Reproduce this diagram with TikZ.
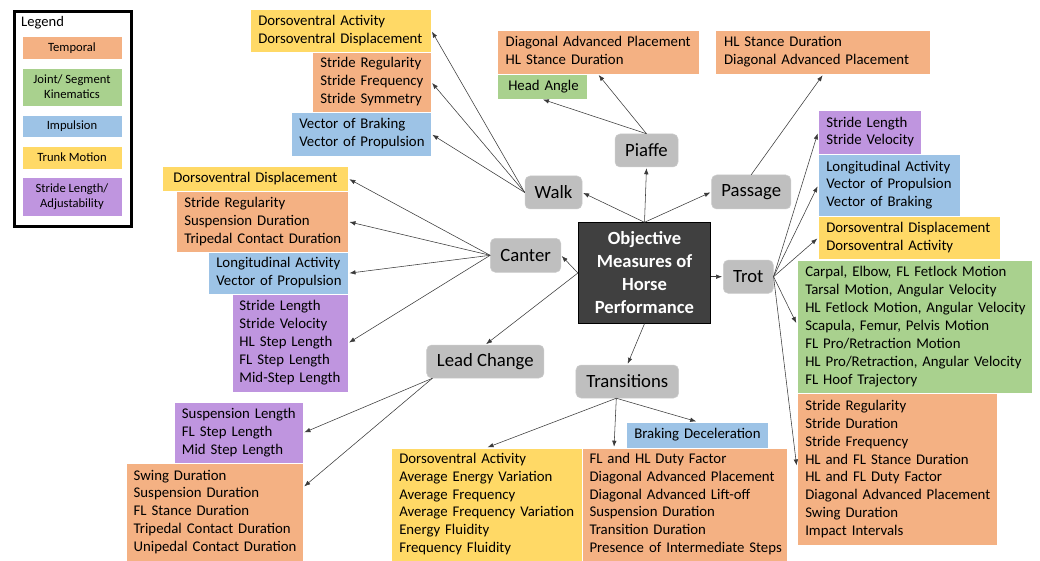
\documentclass[tikz,border=0pt]{standalone}
\usepackage{fontspec}
\setmainfont{Carlito}
\usetikzlibrary{arrows.meta,positioning,calc}
\definecolor{orng}{HTML}{F4B183}
\definecolor{grn}{HTML}{A9D18E}
\definecolor{blu}{HTML}{9DC3E6}
\definecolor{ylw}{HTML}{FFD966}
\definecolor{prp}{HTML}{BF95DF}
\definecolor{gry}{HTML}{BFBFBF}
\definecolor{drk}{HTML}{404040}
\definecolor{lnk}{HTML}{3A3A3A}
\newcommand\myCellFont{\fontsize{14.8}{17.9}\selectfont}
\newcommand\myNodeFont{\fontsize{18.7}{22}\selectfont}
\newcommand\myLegFont{\fontsize{12.6}{15.3}\selectfont}
\newcommand\cellLines[1]{\noindent\begin{tabular}{@{}l@{}}#1\end{tabular}}
\hbadness=10000 \hfuzz=200pt
\begin{document}
\begin{tikzpicture}[x=1pt,y=-1pt,
  cell/.style={rectangle, anchor=north west, inner xsep=8pt, inner ysep=0pt,
    align=left, font=\myCellFont, draw=white, line width=0.5pt},
  gnode/.style={rectangle, rounded corners=5pt, fill=gry, draw=gry!80!white,
    line width=0.5pt, inner sep=0pt, font=\myNodeFont, align=center},
  legcell/.style={rectangle, inner sep=0pt, minimum width=100pt, align=center,
    font=\myLegFont, draw=white, line width=0.5pt},
  link/.style={draw=lnk, line width=0.55pt, -{Latex[length=6pt,width=4.5pt]}, shorten >=1pt}]
\useasboundingbox (0,0) rectangle (1040,561);
\fill[white] (0,0) rectangle (1040,561);

% Legend
\node[draw=black, line width=2.6pt, minimum width=117pt, minimum height=215pt, anchor=north west, inner sep=0pt] (legend) at (13,10) {};
\node[anchor=west, font=\fontsize{14.6}{17}\selectfont, inner sep=0pt] (legtitle) at (21,23) {Legend};
\node[legcell, fill=orng, minimum height=23pt] (lg1) at (72,48.2) {Temporal};
\node[legcell, fill=grn, minimum height=38pt] (lg2) at (72,87) {Joint/ Segment\\Kinematics};
\node[legcell, fill=blu, minimum height=22pt] (lg3) at (72,126) {Impulsion};
\node[legcell, fill=ylw, minimum height=23pt] (lg4) at (72,157.5) {Trunk Motion};
\node[legcell, fill=prp, minimum height=39pt] (lg5) at (72,196.5) {Stride Length/\\Adjustability};

% Central and gait nodes
\node[rectangle, fill=drk, draw=black, line width=0.8pt, minimum width=132.4pt, minimum height=100.6pt,
  inner sep=0pt, align=center, text=white, font=\fontsize{18.6}{23}\selectfont\bfseries] (center) at (644.5,273)
  {Objective\\Measures of\\Horse\\Performance};
\node[gnode, minimum width=57pt, minimum height=33pt] (walk) at (553.5,192.5) {Walk};
\node[gnode, minimum width=63pt, minimum height=33pt] (piaffe) at (646.5,150.5) {Piaffe};
\node[gnode, minimum width=79.3pt, minimum height=34pt] (passage) at (751.2,192) {Passage};
\node[gnode, minimum width=70.4pt, minimum height=34pt] (canter) at (525.6,255.3) {Canter};
\node[gnode, minimum width=50pt, minimum height=33.3pt] (trot) at (748.3,276.7) {Trot};
\node[gnode, minimum width=117.3pt, minimum height=33pt] (lc) at (485.3,361.5) {Lead Change};
\node[gnode, minimum width=102.7pt, minimum height=33pt] (trans) at (627.3,381.5) {Transitions};

% Walk boxes
\node[cell, fill=ylw, text width=165pt, minimum height=42.4pt] (wy) at (250,9.3) {\cellLines{Dorsoventral Activity\\Dorsoventral Displacement}};
\node[cell, fill=orng, text width=103pt, minimum height=60pt] (wo) at (312,52) {\cellLines{Stride Regularity\\Stride Frequency\\Stride Symmetry}};
\node[cell, fill=blu, text width=124pt, minimum height=44pt] (wb) at (291,112) {\cellLines{Vector of Braking\\Vector of Propulsion}};

% Canter boxes
\node[cell, fill=ylw, inner xsep=11pt, text width=164pt, minimum height=25pt] (cy) at (162,166) {\cellLines{Dorsoventral Displacement}};
\node[cell, fill=orng, text width=156pt, minimum height=61pt] (co) at (176,191) {\cellLines{Stride Regularity\\Suspension Duration\\Tripedal Contact Duration}};
\node[cell, fill=blu, text width=124pt, minimum height=42pt] (cb) at (208,252) {\cellLines{Longitudinal Activity\\Vector of Propulsion}};
\node[cell, fill=prp, inner xsep=7.5pt, text width=101pt, minimum height=97.7pt] (cp) at (231.7,294) {\cellLines{Stride Length\\Stride Velocity\\HL Step Length\\FL Step Length\\Mid-Step Length}};

% Lead change boxes
\node[cell, fill=prp, inner xsep=7.7pt, text width=113.6pt, minimum height=61pt] (lp) at (174,402) {\cellLines{Suspension Length\\FL Step Length\\Mid Step Length}};
\node[cell, fill=orng, inner xsep=7.7pt, text width=161.9pt, minimum height=98pt] (lo) at (125.7,463) {\cellLines{Swing Duration\\Suspension Duration\\FL Stance Duration\\Tripedal Contact Duration\\Unipedal Contact Duration}};

% Transitions boxes
\node[cell, fill=ylw, text width=174.7pt, minimum height=113pt] (ty) at (391,447.7) {\cellLines{Dorsoventral Activity\\Average Energy Variation\\Average Frequency\\Average Frequency Variation\\Energy Fluidity\\Frequency Fluidity}};
\node[cell, fill=orng, inner xsep=7.6pt, text width=189.8pt, minimum height=113pt] (to) at (581.7,447.7) {\cellLines{FL and HL Duty Factor\\Diagonal Advanced Placement\\Diagonal Advanced Lift-off\\Suspension Duration\\Transition Duration\\Presence of Intermediate Steps}};
\node[cell, fill=blu, text width=125.7pt, minimum height=26pt] (tb) at (626,421.7) {\cellLines{Braking Deceleration}};

% Piaffe boxes
\node[cell, fill=orng, inner xsep=8.4pt, text width=184.7pt, minimum height=43.7pt] (po) at (497,30) {\cellLines{Diagonal Advanced Placement\\HL Stance Duration}};
\node[cell, fill=grn, inner xsep=11pt, text width=67.5pt, minimum height=25pt] (pg) at (497,73.7) {\cellLines{Head Angle}};

% Passage box
\node[cell, fill=orng, inner xsep=8.4pt, text width=198.2pt, minimum height=44pt] (so) at (715.4,30) {\cellLines{HL Stance Duration\\Diagonal Advanced Placement}};

% Trot boxes
\node[cell, fill=prp, text width=87pt, minimum height=44.3pt] (rp) at (818,110) {\cellLines{Stride Length\\Stride Velocity}};
\node[cell, fill=blu, text width=125.6pt, minimum height=61.7pt] (rb) at (818,154.3) {\cellLines{Longitudinal Activity\\Vector of Propulsion\\Vector of Braking}};
\node[cell, fill=ylw, text width=166pt, minimum height=43.3pt] (ry) at (818,216) {\cellLines{Dorsoventral Displacement\\Dorsoventral Activity}};
\node[cell, fill=grn, inner xsep=8.3pt, text width=218.4pt, minimum height=133.3pt] (rg) at (796.7,260) {\cellLines{Carpal, Elbow, FL Fetlock Motion\\Tarsal Motion, Angular Velocity\\HL Fetlock Motion, Angular Velocity\\Scapula, Femur, Pelvis Motion\\FL Pro/Retraction Motion\\HL Pro/Retraction, Angular Velocity\\FL Hoof Trajectory}};
\node[cell, fill=orng, inner xsep=8.3pt, text width=184pt, minimum height=151.7pt] (ro) at (796.7,393.3) {\cellLines{Stride Regularity\\Stride Duration\\Stride Frequency\\HL and FL Stance Duration\\HL and FL Duty Factor\\Diagonal Advanced Placement\\Swing Duration\\Impact Intervals}};

% Connectors from center
\draw[link] (center.north) -- (walk.east);
\draw[link] (center.north) -- (piaffe.south);
\draw[link] (center.north) -- (passage.west);
\draw[link] (center.east |- trot.west) -- (trot.west);
\draw[link] (center.west) -- (canter.east);
\draw[link] (center.west) -- (lc.north);
\draw[link] (center.south) -- (trans.north);

% Walk
\draw[link] (walk.west) -- (wy.east);
\draw[link] (walk.west) -- (wo.east);
\draw[link] (walk.west) -- (wb.east);

% Canter
\draw[link] (canter.west) -- (cy.east);
\draw[link] (canter.west) -- (co.east);
\draw[link] (canter.west) -- (cb.east);
\draw[link] (canter.west) -- (cp.east);

% Lead change
\draw[link] ([xshift=6pt]lc.south west) -- (lp.east);
\draw[link] ([xshift=6pt]lc.south west) -- ([yshift=-24pt]lo.north east);

% Transitions
\draw[link] ([xshift=-11pt]trans.south) -- (ty.north);
\draw[link] ([xshift=-11pt]trans.south) -- ([xshift=32.3pt]to.north west);
\draw[link] ([xshift=-11pt]trans.south) -- (tb.north);

% Piaffe
\draw[link] (piaffe.north) -- (po.south);
\draw[link] (piaffe.north) -- (pg.south);

% Passage
\draw[link] (passage.north) -- (so.south);

% Trot
\draw[link] (trot.east) -- (rp.west);
\draw[link] (trot.east) -- (rb.west);
\draw[link] (trot.east) -- (ry.west);
\draw[link] (trot.east) -- ([yshift=3pt]rg.west);
\draw[link] (trot.east) -- ([yshift=3pt]ro.west);
\end{tikzpicture}
\end{document}
